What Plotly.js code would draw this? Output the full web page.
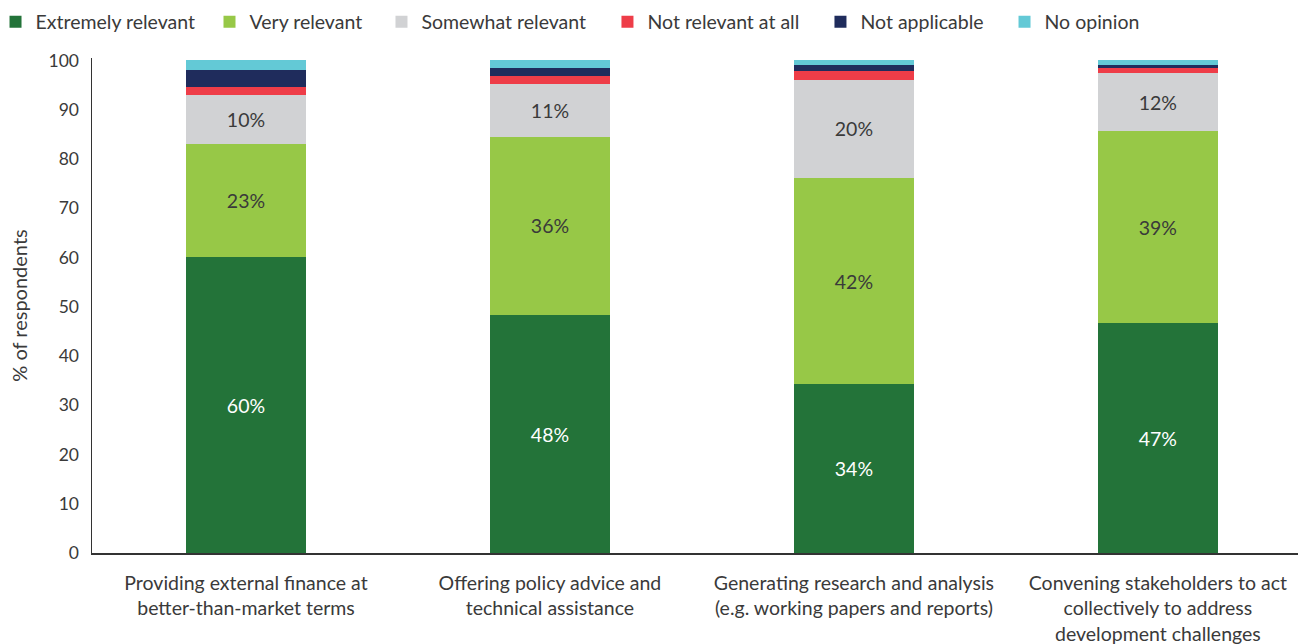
<!DOCTYPE html>
<html>
<head>
<meta charset="utf-8">
<script src="https://cdn.plot.ly/plotly-3.0.1.min.js"></script>
<style>
  html, body { margin: 0; padding: 0; background: #fff; }
  #chart { width: 1298px; height: 644px; }
</style>
</head>
<body>
<div id="chart"></div>
<script>
// Categories (x-axis)
const categories = [
  "Providing external finance at<br>better-than-market terms",
  "Offering policy advice and<br>technical assistance",
  "Generating research and analysis<br>(e.g. working papers and reports)",
  "Convening stakeholders to act<br>collectively to address<br>development challenges"
];

// Series names
const seriesNames = ["Extremely relevant", "Very relevant", "Somewhat relevant",
                     "Not relevant at all", "Not applicable", "No opinion"];

// Series values (% of respondents)
const extremelyRelevant = [60.0, 48.3, 34.3, 46.6];
const veryRelevant      = [23.1, 36.2, 41.8, 39.1];
const somewhatRelevant  = [9.9, 10.7, 20.0, 11.7];
const notRelevantAtAll  = [1.7, 1.7, 1.7, 1.0];
const notApplicable     = [3.3, 1.6, 1.2, 0.7];
const noOpinion         = [2.0, 1.5, 1.0, 0.9];

// Data labels
const extremelyLabels = ["60%", "48%", "34%", "47%"];
const veryLabels      = ["23%", "36%", "42%", "39%"];
const somewhatLabels  = ["10%", "11%", "20%", "12%"];

// Y-axis ticks
const yTicks = [0, 10, 20, 30, 40, 50, 60, 70, 80, 90, 100];

const FONT = "Lato, 'Noto Sans', sans-serif";
const TXT = "#3a3a3a";
const BARW = 0.395;

// legend entry positions
const legendPos = [
  { xref: "paper", x: -0.08 },
  { xref: "container", x: 0.1614 },
  { xref: "container", x: 0.2939 },
  { xref: "container", x: 0.4680 },
  { xref: "container", x: 0.6321 },
  { xref: "container", x: 0.7739 }
];

function series(idx, values, color, labels, textColor) {
  const t = {
    type: "bar",
    name: seriesNames[idx],
    legend: idx === 0 ? "legend" : "legend" + (idx + 1),
    x: categories,
    y: values,
    width: BARW,
    marker: { color: color, line: { width: 0 } },
    hoverinfo: "name+y"
  };
  if (labels) {
    t.text = labels;
    t.textposition = "inside";
    t.insidetextanchor = "middle";
    t.textangle = 0;
    t.textfont = { family: FONT, size: 19.5, color: textColor };
    t.constraintext = "none";
  } else {
    t.textposition = "none";
  }
  return t;
}

const data = [
  series(0, extremelyRelevant, "#237339", extremelyLabels, "#ffffff"),
  series(1, veryRelevant, "#97C847", veryLabels, TXT),
  series(2, somewhatRelevant, "#D1D2D4", somewhatLabels, TXT),
  series(3, notRelevantAtAll, "#EE3D48", null, null),
  series(4, notApplicable, "#1F2C5C", null, null),
  series(5, noOpinion, "#63C9D6", null, null)
];

const layout = {
  width: 1298,
  height: 644,
  barmode: "stack",
  paper_bgcolor: "#ffffff",
  plot_bgcolor: "#ffffff",
  font: { family: FONT, size: 17, color: TXT },
  margin: { l: 92, r: 0, t: 57.5, b: 91, pad: 0, autoexpand: false },
  showlegend: true,
  xaxis: {
    type: "category",
    range: [-0.5066, 3.461],
    automargin: false,
    showline: true,
    linecolor: "#333333",
    linewidth: 1.5,
    ticks: "",
    showgrid: false,
    zeroline: false,
    ticklabelstandoff: 12,
    tickfont: { family: FONT, size: 19.5, color: TXT },
    fixedrange: true
  },
  yaxis: {
    range: [0, 100.5],
    automargin: false,
    tickvals: yTicks,
    ticktext: yTicks.map(String),
    showline: true,
    linecolor: "#333333",
    linewidth: 1.5,
    ticks: "",
    showgrid: false,
    zeroline: false,
    ticklabelstandoff: 8,
    tickfont: { family: FONT, size: 17.5, color: TXT },
    title: { text: "% of respondents", font: { family: FONT, size: 20, color: TXT }, standoff: 15 },
    fixedrange: true
  }
};

legendPos.forEach(function (p, i) {
  const key = i === 0 ? "legend" : "legend" + (i + 1);
  layout[key] = {
    orientation: "h",
    xref: p.xref,
    yref: "container",
    x: p.x,
    xanchor: "left",
    y: 1 - 22 / 644,
    yanchor: "middle",
    font: { family: FONT, size: 19.5, color: TXT },
    bgcolor: "rgba(0,0,0,0)",
    borderwidth: 0
  };
});

Plotly.newPlot("chart", data, layout, { displayModeBar: false, staticPlot: true });
</script>
</body>
</html>
